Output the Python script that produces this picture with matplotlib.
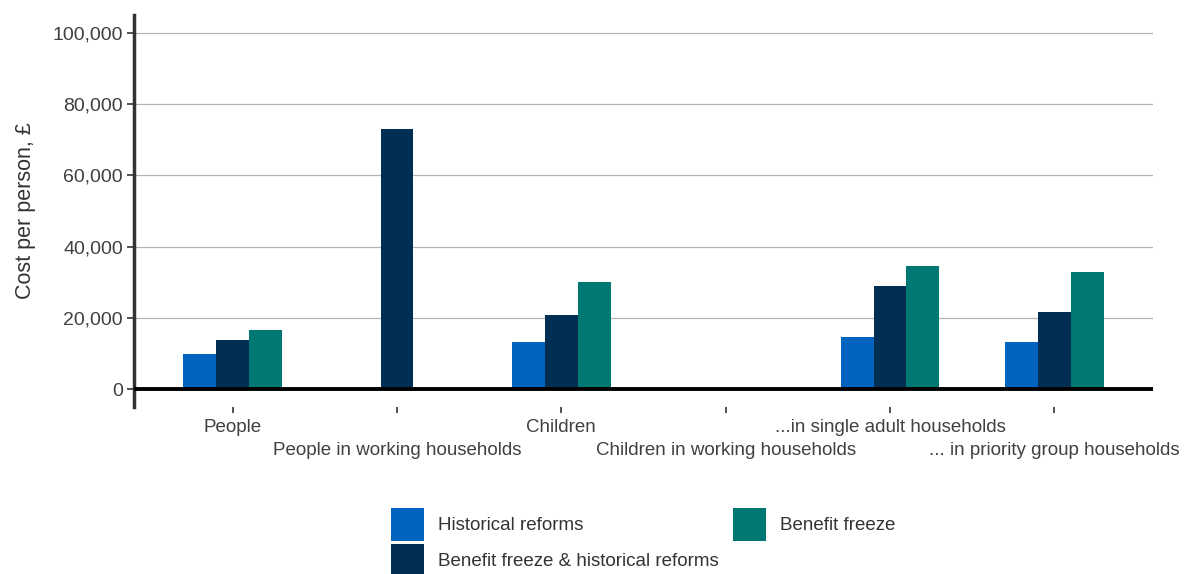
import matplotlib.pyplot as plt
import numpy as np

plt.rcParams['font.family'] = ['Liberation Sans', 'DejaVu Sans']

categories = ["People", "People in working households", "Children",
              "Children in working households", "...in single adult households",
              "... in priority group households"]
series = ["Historical reforms", "Benefit freeze & historical reforms", "Benefit freeze"]
historical = [9800, 0, 13200, 0, 14500, 13300]
freeze_hist = [13800, 73000, 20800, 0, 28900, 21600]
freeze = [16600, 0, 30100, 0, 34600, 32800]
colours = ["#0064BF", "#002F53", "#007874"]

fig = plt.figure(figsize=(11.84, 5.74), dpi=100)
ax = fig.add_axes([0.1132, 0.291, 0.8606, 0.683])

x = np.arange(len(categories))
w = 0.2
for i, (vals, name, c) in enumerate(zip([historical, freeze_hist, freeze], series, colours)):
    ax.bar(x + (i - 1) * w, vals, w, color=c, label=name, zorder=3)

ax.set_xlim(-0.6, len(categories) - 0.4)
ax.set_ylim(-5000, 105000)
ax.set_yticks(np.arange(0, 100001, 20000))
ax.set_yticklabels([f"{v:,}" for v in range(0, 100001, 20000)])
ax.yaxis.grid(True, color="#b3b3b3", linewidth=0.9, zorder=0)
ax.axhline(0, color="black", linewidth=2.8, zorder=4)

for s in ["top", "right", "bottom"]:
    ax.spines[s].set_visible(False)
ax.spines["left"].set_color("#333333")
ax.spines["left"].set_linewidth(2.5)

# staggered category labels: even ones on major ticks, odd ones on minor ticks lower down
ax.set_xticks(x[::2])
ax.set_xticklabels(categories[::2])
ax.set_xticks(x[1::2], minor=True)
ax.set_xticklabels(categories[1::2], minor=True)
ax.tick_params(axis="x", which="major", length=4, width=1.2, color="#333333", pad=5,
               labelsize=13.5, labelcolor="#404040")
ax.tick_params(axis="x", which="minor", length=4, width=1.2, color="#333333", pad=21.5,
               labelsize=13.5, labelcolor="#404040")
ax.tick_params(axis="y", length=5, width=1.2, color="#333333", pad=3,
               labelsize=14, labelcolor="#404040")

ax.set_ylabel("Cost per person, £", fontsize=15.5, color="#333333", labelpad=12)

fig.legend(loc="upper left", bbox_to_anchor=(0.330, 0.115), ncol=2, frameon=False,
           fontsize=13.5, handlelength=1.76, handleheight=2.33, labelspacing=0.17,
           handletextpad=0.75, columnspacing=0.75, borderpad=0, borderaxespad=0,
           labelcolor="#333333")

fig.savefig("out.png", dpi=100)
